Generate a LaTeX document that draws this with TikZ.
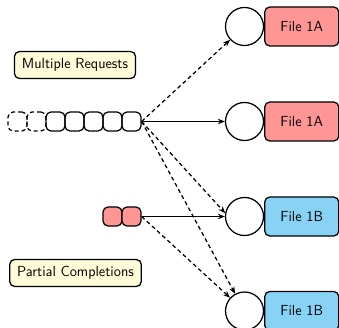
\documentclass[tikz,border=0pt]{standalone}
\usetikzlibrary{arrows.meta}
\definecolor{filered}{RGB}{255,150,150}
\definecolor{fileblue}{RGB}{135,210,245}
\definecolor{notefill}{RGB}{255,250,215}
\begin{document}
\begin{tikzpicture}[x=1pt,y=-1pt,
  line width=1.25pt,
  every node/.style={font=\sffamily\fontsize{14.6}{17}\selectfont},
  slot/.style={draw,rounded corners=5pt,minimum size=19pt,inner sep=0pt},
  ghost/.style={slot,dashed,dash pattern=on 4pt off 3pt},
  donepart/.style={slot,fill=filered},
  port/.style={draw,circle,minimum size=38pt,inner sep=0pt},
  filebox/.style={draw,rounded corners=5pt,minimum width=74pt,minimum height=39pt,inner sep=0pt,anchor=west},
  note/.style={draw,rounded corners=5pt,fill=notefill,inner xsep=7.5pt,minimum height=27pt},
  link/.style={-{Stealth[length=7pt,width=5.5pt]}},
  maybe/.style={link,dash pattern=on 4pt off 3pt}]
\useasboundingbox (0,0) rectangle (339,328);

% request queue
\node[ghost] (q1) at (17.5,121.5) {};
\node[ghost] (q2) at (36.5,121.5) {};
\node[slot] (q3) at (55.5,121.5) {};
\node[slot] (q4) at (74.5,121.5) {};
\node[slot] (q5) at (93.5,121.5) {};
\node[slot] (q6) at (112.5,121.5) {};
\node[slot] (q7) at (131.5,121.5) {};

% partially completed pieces
\node[donepart] (p1) at (112.5,216.5) {};
\node[donepart] (p2) at (131.5,216.5) {};

% servers with their files
\node[port] (c1) at (244.5,26.5) {};
\node[port] (c2) at (244.5,121.5) {};
\node[port] (c3) at (244.5,216.5) {};
\node[port] (c4) at (244.5,311) {};
\node[filebox,fill=filered] (f1) at (c1.east) {File 1A};
\node[filebox,fill=filered] (f2) at (c2.east) {File 1A};
\node[filebox,fill=fileblue] (f3) at (c3.east) {File 1B};
\node[filebox,fill=fileblue] (f4) at (c4.east) {File 1B};

% labels
\node[note] (mr) at (75,65) {Multiple Requests};
\node[note] (pc) at (75.5,273) {Partial Completions};

% connections
\draw[maybe] (q7.east) -- (c1);
\draw[link] (q7.east) -- (c2.west);
\draw[maybe] (q7.east) -- (c3.170);
\draw[maybe] (q7.east) -- (c4);
\draw[link] (p2.east) -- (c3.west);
\draw[maybe] (p2.east) -- (c4);
\end{tikzpicture}
\end{document}
